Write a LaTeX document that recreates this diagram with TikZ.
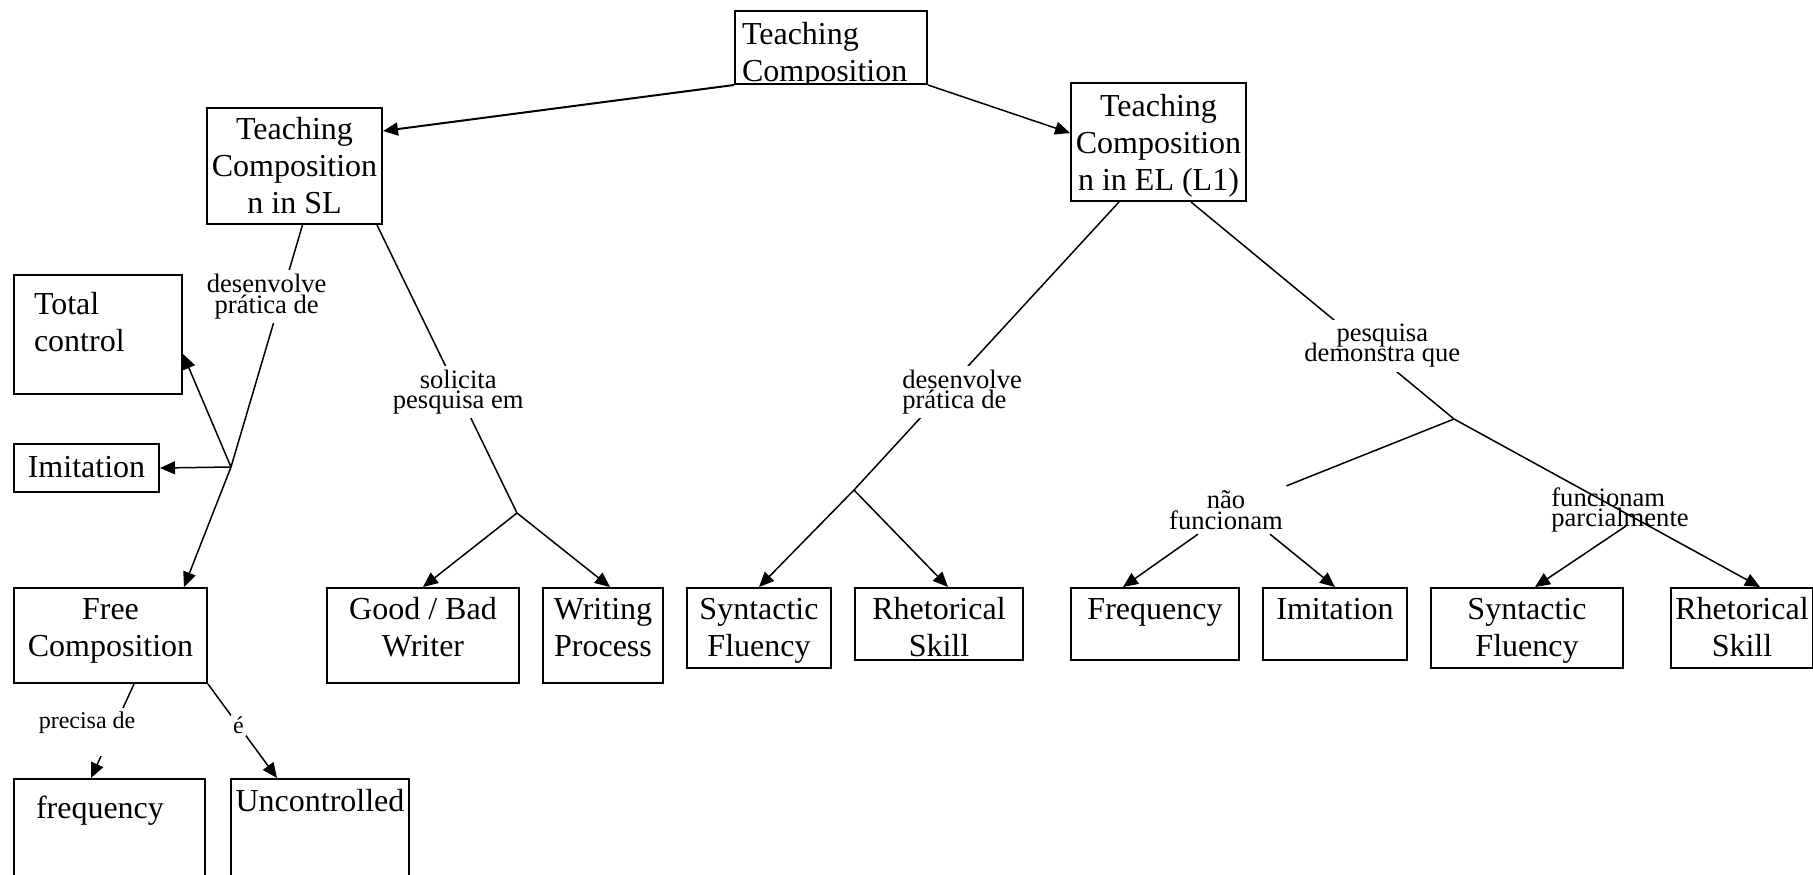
\documentclass[tikz,border=0pt]{standalone}
\usepackage{fontspec}
\setmainfont{Liberation Serif}
\usetikzlibrary{arrows.meta}

\newcommand\boxfont{\fontsize{16}{18.5}\selectfont}
\newcommand\lblfont{\fontsize{13.3}{10.3}\selectfont\lineskiplimit=-20pt\relax}
\newcommand\smlfont{\fontsize{12}{12}\selectfont}

\tikzset{
	box/.style={draw, line width=1pt, rectangle, anchor=north west, inner xsep=2pt, inner ysep=0pt, align=flush center, font=\boxfont, text height=15.5pt},
	lbl/.style={font=\lblfont, align=center, inner sep=2pt},
	>={Triangle[length=7.5pt,width=6.5pt]},
}

\begin{document}
\begin{tikzpicture}[x=0.5pt, y=-0.5pt, line width=0.75pt]
	\useasboundingbox (0,0) rectangle (1813,874);

	% Define the boxes, placed by their top left corner
	\begin{scope}
		\clip (728,4) rectangle (932,84);
		\node[box, align=flush left, inner xsep=3.5pt, text width=89pt, text height=16.5pt, text depth=20pt] (root) at (734,10) {Teaching\\Composition};
	\end{scope}
	\node[box, inner xsep=0pt, text width=87.5pt, text depth=42.5pt] (sl) at (206,107) {Teaching\\Composition\\n in SL};
	\node[box, inner xsep=0pt, text width=87.5pt, text height=16.5pt, text depth=42.5pt] (el) at (1070,82) {Teaching\\Composition\\n in EL (L1)};
	\node[box, align=flush left, inner xsep=10pt, text width=64pt, text height=19.5pt, text depth=40pt] (total) at (13,274) {Total\\control};
	\node[box, text width=68.5pt, text height=16.5pt, text depth=7.5pt] (imit1) at (13,443) {Imitation};
	\node[box, text width=92.5pt, text depth=32pt] (free) at (13,587) {Free\\Composition};
	\node[box, text width=92pt, text depth=32pt] (gb) at (326,587) {Good / Bad\\Writer};
	\node[box, text width=56pt, text depth=32pt] (wp) at (542,587) {Writing\\Process};
	\node[box, text width=68pt, text depth=24.5pt] (synL) at (686,587) {Syntactic\\Fluency};
	\node[box, text width=80pt, text depth=20.5pt] (rhetL) at (854,587) {Rhetorical\\Skill};
	\node[box, text width=80pt, text depth=20.5pt] (freqR) at (1070,587) {Frequency};
	\node[box, text width=68pt, text depth=20.5pt] (imitR) at (1262,587) {Imitation};
	\node[box, text width=92pt, text depth=24.5pt] (synR) at (1430,587) {Syntactic\\Fluency};
	\node[box, inner xsep=1.5pt, text width=68pt, text depth=24.5pt] (rhetR) at (1670,587) {Rhetorical\\Skill};
	\node[box, align=flush left, inner xsep=11pt, text width=73.5pt, text height=19.5pt, text depth=36.5pt] (freqL) at (13,778) {frequency};
	\node[box, text width=85pt, text height=16pt, text depth=40pt] (unc) at (230,778) {Uncontrolled};

	% branch points
	\coordinate (b1) at (231,467);
	\coordinate (b2) at (517,513);
	\coordinate (b3) at (854,490);
	\coordinate (b4) at (1454,419);
	\node[lbl] (nf) at (1226,510) {não\\funcionam};
	\node[lbl, align=left] (fp) at (1620,510) {funcionam\\parcialmente};

	% Draw the connectors with their labels
	\draw[->, line width=1pt] (root.south west) -- ([yshift=17.5pt]sl.east);
	\draw[->] (root.south east) -- ([yshift=4.5pt]el.west);

	\draw ([xshift=4pt]sl.south) -- node[lbl, fill=white, pos=0.295, xshift=-7.35pt] {desenvolve\\prática de} (b1);
	\draw[->] (b1) -- ([yshift=-9.75pt]total.east);
	\draw[->] (b1) -- (imit1.east);
	\draw[->] (b1) -- ([xshift=-12pt]free.north east);

	\draw ([xshift=-3pt]sl.south east) -- node[lbl, fill=white, pos=0.58] {solicita\\pesquisa em} (b2);
	\draw[->] (b2) -- (gb.north);
	\draw[->] (b2) -- ([xshift=3.5pt]wp.north);

	\draw ([xshift=-19.75pt]el.south) -- node[lbl, fill=white, align=left, pos=0.66, xshift=9pt] {desenvolve\\prática de} (b3);
	\draw[->] (b3) -- (synL.north);
	\draw[->] (b3) -- ([xshift=4.5pt]rhetL.north);

	\draw ([xshift=16.25pt]el.south) -- node[lbl, fill=white, pos=0.662, xshift=8.6pt] {pesquisa\\demonstra que} (b4);
	\draw (b4) -- (nf);
	\draw[->] ([xshift=-14pt]nf.south) -- ([xshift=-16pt]freqR.north);
	\draw[->] ([xshift=22pt]nf.south) -- (imitR.north);
	\draw[->] (b4) -- ([xshift=9pt]rhetR.north);
	\draw[->] ([xshift=3pt,yshift=-8pt]fp.center) -- ([xshift=4pt]synR.north);

	\draw[->] ([xshift=11.75pt]free.south) -- node[lbl, font=\smlfont, fill=white, pos=0.51, xshift=-12.5pt, text height=8.5pt, text depth=11.5pt] {precisa de} ([xshift=-9.25pt]freqL.north);
	\draw[->] (free.south east) -- node[lbl, font=\smlfont, fill=white, inner sep=1pt, pos=0.44] {é} ([xshift=-21.5pt]unc.north);
\end{tikzpicture}
\end{document}
